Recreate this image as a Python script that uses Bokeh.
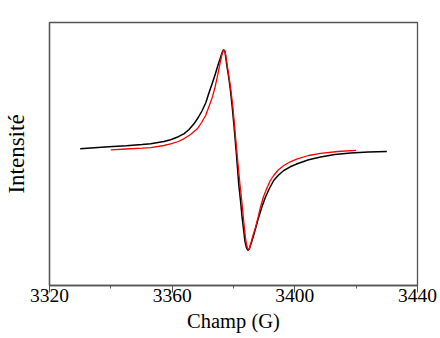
from bokeh.plotting import figure
from bokeh.models import FixedTicker, Range1d
from bokeh.embed import file_html
from bokeh.resources import INLINE

# Black spectrum (experimental) – field (G) and intensity (a.u.)
black_field = [3330, 3339.3, 3345, 3350.2, 3353, 3357.3, 3359.5, 3362, 3363.8, 3365.5,
               3367.1, 3368.5, 3369.8, 3371, 3371.9, 3373, 3374.1, 3375, 3375.8, 3376.3,
               3376.7, 3377.2, 3377.9, 3378.5, 3379.0, 3379.6, 3380.1, 3380.5, 3380.9,
               3381.3, 3381.7, 3382.3, 3382.8, 3383.3, 3383.7, 3384.2, 3384.7, 3385.2,
               3385.8, 3386.6, 3387.4, 3388.2, 3389.3, 3390.4, 3391.7, 3393.1, 3394.7,
               3396.4, 3398.5, 3400.8, 3404.5, 3408.4, 3413, 3418.2, 3424, 3430]
black_int = [0.3, 2.3, 3.3, 4.5, 5.3, 7.5, 9.2, 12.3, 15.2, 19.5,
             25.2, 31.5, 38.5, 46.5, 55.2, 65, 75.2, 84.5, 91.8, 96.5,
             99.3, 97.5, 82, 70.5, 58.5, 41.5, 25.2, 11, -3.2,
             -19, -34.8, -52, -68.2, -81, -91.5, -98.5, -101.5, -99.5,
             -94, -86, -77, -68.2, -57.5, -48.2, -39.5, -31.5, -26,
             -21.5, -17.8, -14.8, -10.8, -8, -5.5, -4, -3, -2.5]

# Red spectrum (simulation) – field (G) and intensity (a.u.)
red_field = [3340, 3345, 3350.2, 3353, 3357.3, 3359.5, 3362, 3363.8, 3366,
             3368.2, 3369.6, 3370.9, 3372, 3373.1, 3374, 3374.7, 3375.3, 3375.8,
             3376.3, 3376.8, 3377.3, 3378.0, 3378.6, 3379.2, 3379.8, 3380.3,
             3380.7, 3381.1, 3381.6, 3382.1, 3382.7, 3383.2, 3383.6, 3384.0,
             3384.4, 3384.8, 3385.2, 3385.6, 3386.3, 3387.2, 3388.0, 3388.8,
             3389.8, 3391.0, 3392.0, 3393.1, 3394.6, 3396.4, 3398.5, 3400.8,
             3404.5, 3408.4, 3414, 3420]
red_int = [-0.8, 0, 0.8, 1.4, 3.5, 5.2, 7.5, 10.2, 14.5,
           20.2, 26.5, 33.5, 42.5, 51.8, 62, 71.8, 81, 88.5,
           95, 99.3, 97.5, 83, 71, 58, 41.5, 25,
           11, -3, -19, -35, -52, -68, -80.5, -91,
           -97.5, -101, -99.5, -95, -87, -78.2, -68.5, -58.2,
           -47.5, -38.2, -31.5, -26.5, -21, -16.5, -12.8, -9.8,
           -6.5, -4.3, -2.5, -1.3]

x_ticks = [3320, 3360, 3400, 3440]
x_minor = [3340, 3380, 3420]

p = figure(width=440, height=338, output_backend="svg", toolbar_location=None,
           x_range=Range1d(3320, 3440), y_range=Range1d(-136.5, 126.5),
           min_border_left=49, min_border_right=23, min_border_top=22,
           min_border_bottom=53)

p.line(black_field, black_int, line_color="black", line_width=1.5)
p.line(red_field, red_int, line_color="#ff0000", line_width=1.3)

p.grid.visible = False
p.outline_line_color = "#555555"
p.outline_line_width = 1.3
p.background_fill_color = "white"
p.border_fill_color = "white"

xa = p.xaxis[0]
xa.ticker = FixedTicker(ticks=x_ticks, minor_ticks=x_minor)
xa.axis_label = "Champ (G)"
xa.axis_line_color = "#555555"
xa.axis_line_width = 1.3
xa.major_tick_line_color = "#555555"
xa.minor_tick_line_color = "#555555"
xa.major_tick_in = 0
xa.major_tick_out = 7
xa.minor_tick_in = 0
xa.minor_tick_out = 3
xa.major_label_standoff = -4
xa.major_label_text_font = "Liberation Serif"
xa.major_label_text_font_size = "19.5px"
xa.major_label_text_color = "black"
xa.axis_label_text_font = "Liberation Serif"
xa.axis_label_text_font_size = "20.5px"
xa.axis_label_text_font_style = "normal"
xa.axis_label_text_color = "black"
xa.axis_label_standoff = 5

ya = p.yaxis[0]
ya.ticker = FixedTicker(ticks=[])
ya.axis_label = "Intensité"
ya.axis_line_color = "#555555"
ya.axis_line_width = 1.3
ya.major_tick_line_color = None
ya.minor_tick_line_color = None
ya.axis_label_text_font = "Liberation Serif"
ya.axis_label_text_font_size = "23px"
ya.axis_label_text_font_style = "normal"
ya.axis_label_text_color = "black"
ya.axis_label_standoff = 21

open("out.html", "w").write(file_html(p, INLINE))
